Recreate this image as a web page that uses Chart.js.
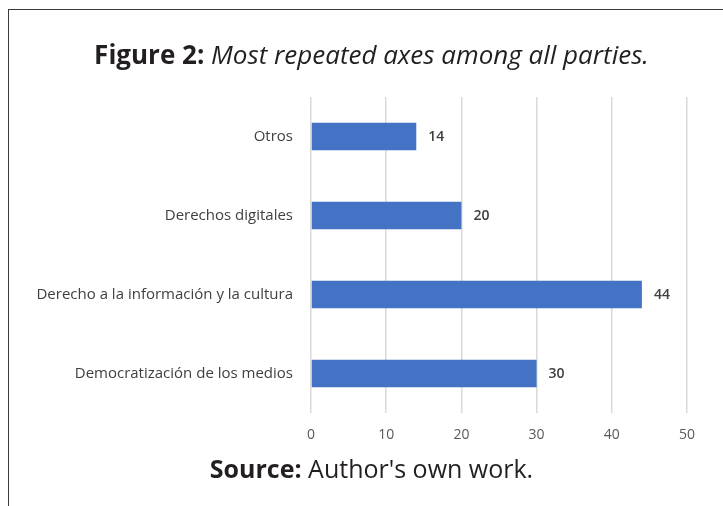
<!DOCTYPE html>
<html>
<head>
<meta charset="utf-8">
<script src="https://cdn.jsdelivr.net/npm/chart.js@4.4.0/dist/chart.umd.min.js"></script>
<style>
  html, body { margin: 0; padding: 0; background: #fff; }
  body { width: 723px; height: 506px; position: relative; overflow: hidden; }
  #frame {
    position: absolute; left: 8px; top: 9px; width: 740px; height: 520px;
    border-left: 1.5px solid #3a3a3a; border-top: 1.5px solid #3a3a3a;
  }
  .caption {
    position: absolute; left: 0; width: 743px; text-align: center;
    font-family: "Open Sans", sans-serif; color: #231f20; white-space: nowrap;
  }
  #figTitle { top: 36px; font-size: 26px; }
  #figSource { top: 451px; font-size: 25px; }
  .caption b { font-weight: 700; }
  .caption i { font-style: italic; }
  #wrap { position: absolute; left: 0; top: 0; width: 723px; height: 506px; }
</style>
</head>
<body>
<div id="frame"></div>
<div id="wrap"><canvas id="axesChart"></canvas></div>
<div id="figTitle" class="caption"><b>Figure 2:</b> <i>Most repeated axes among all parties.</i></div>
<div id="figSource" class="caption"><b>Source:</b> Author's own work.</div>

<script>
let axisNames = ['Otros', 'Derechos digitales', 'Derecho a la información y la cultura', 'Democratización de los medios'];
let axisCounts = [14, 20, 44, 30];
let countTicks = [0, 10, 20, 30, 40, 50];

// writes the count just past the end of each bar
let barValueLabels = {
    id: 'barValueLabels',
    afterDatasetsDraw(chart) {
        let ctx = chart.ctx;
        let meta = chart.getDatasetMeta(0);
        ctx.save();
        ctx.font = '600 14px "Open Sans", sans-serif';
        ctx.fillStyle = '#404040';
        ctx.textAlign = 'left';
        ctx.textBaseline = 'middle';
        for (let i = 0; i < meta.data.length; i++) {
            let bar = meta.data[i];
            ctx.fillText(chart.data.datasets[0].data[i], bar.x + 12, bar.y + 0.5);
        }
        ctx.restore();
    }
};

function renderChart() {
    let ctx = document.getElementById('axesChart').getContext('2d');
    let chart = new Chart(ctx, {
        type: 'bar',
        data: {
            labels: axisNames,
            datasets: [{
                data: axisCounts,
                backgroundColor: '#4472c4',
                borderWidth: 0,
                barPercentage: 0.35,
                categoryPercentage: 1.0
            }]
        },
        plugins: [barValueLabels],
        options: {
            indexAxis: 'y',
            responsive: true,
            maintainAspectRatio: false,
            animation: false,
            layout: {
                padding: { top: 97, right: 36, left: 0, bottom: 53 }
            },
            plugins: {
                legend: { display: false },
                tooltip: { enabled: false }
            },
            scales: {
                x: {
                    min: 0,
                    max: 50,
                    afterBuildTicks: function(scale) {
                        scale.ticks = countTicks.map(v => ({ value: v }));
                    },
                    afterFit: function(scale) { scale.height = 40; },
                    border: { display: false },
                    grid: { color: '#d9d9d9', lineWidth: 1.5, drawTicks: false },
                    ticks: {
                        padding: 14,
                        color: '#595959',
                        font: { family: '"Open Sans", sans-serif', size: 14 }
                    }
                },
                y: {
                    afterFit: function(scale) { scale.width = 311; },
                    border: { display: false },
                    grid: { display: false, drawTicks: false },
                    ticks: {
                        padding: 18,
                        color: '#404040',
                        font: { family: '"Open Sans", sans-serif', size: 15 }
                    }
                }
            }
        }
    });
    return chart;
}

renderChart();
</script>
</body>
</html>
